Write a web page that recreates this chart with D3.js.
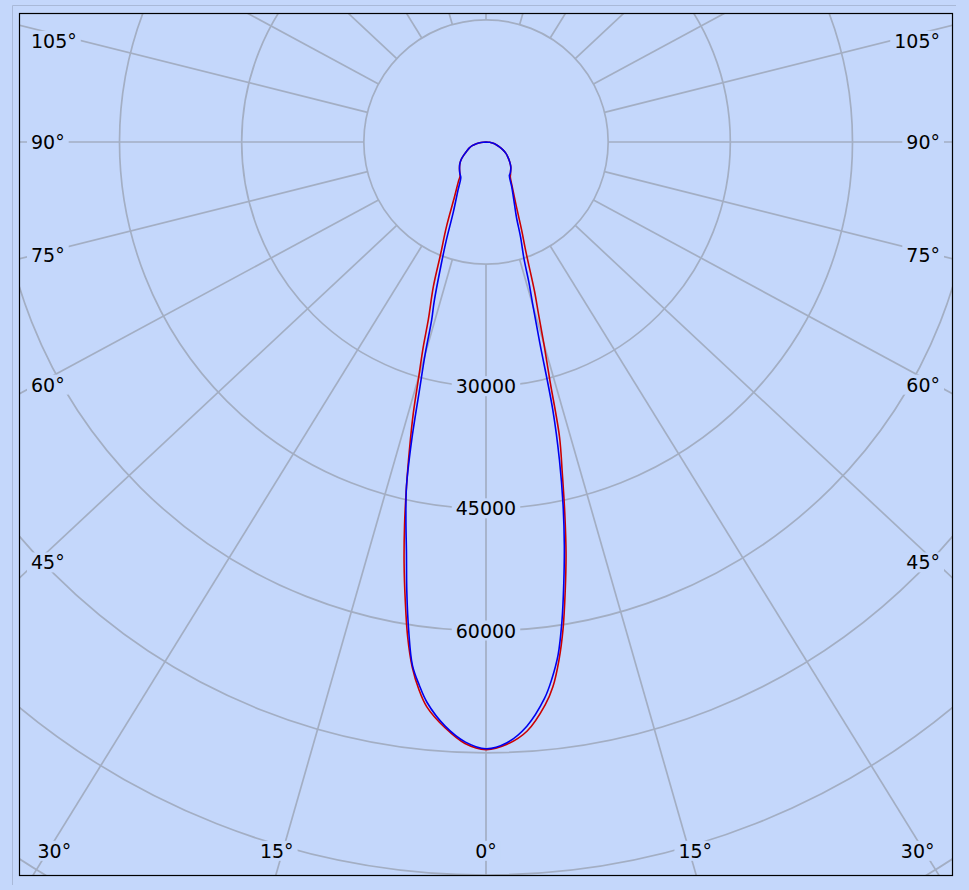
<!DOCTYPE html>
<html><head><meta charset="utf-8">
<script src="https://cdn.jsdelivr.net/npm/d3@7"></script>
<style>html,body{margin:0;padding:0;background:#c4d7fb;} svg{display:block}</style>
</head><body><svg id="chart" width="969" height="890"></svg>
<script>
// ---- data (gamma angle in degrees from nadir, luminous intensity in cd) ----
const gammaAngles = [0,2,4,6,7,8,9,10,11,12,13,14,15,16,17,18,20,22,25,30,35,37,40,45,50,55,60,65,70,75,80,85,90];
const redLeft   = [74600,73900,72100,69700,67700,65100,61500,57100,52700,48100,43400,38800,34500,29900,26400,22900,18900,14900,11500,7700,5900,5300,5000,4600,4200,3700,3100,2600,2200,1750,1200,600,0];
const redRight  = [74600,74000,72500,69500,67400,64300,60500,56000,51500,46500,41600,37300,30300,25800,22000,19300,14300,11700,8900,6500,5200,5000,4700,4300,3800,3300,2850,2300,1800,1300,900,450,0];
const blueLeft  = [74500,73700,71900,69200,67200,64900,60700,56000,51200,47300,43400,37700,31600,27100,22800,20600,16200,13000,9500,6900,5400,5200,5000,4600,4200,3700,3100,2600,2200,1750,1200,600,0];
const blueRight = [74500,73800,71900,68700,66400,63600,59600,55000,50400,45500,40100,33900,25500,20900,18000,15100,12400,10000,8200,6300,5000,4900,4700,4300,3800,3300,2850,2300,1800,1300,900,450,0];
const ringValues = [15000,30000,45000,60000,75000,90000,105000];
const ringLabelValues = [30000,45000,60000];
const spokeAngles = d3.range(0,360,15);
const labelAngles = [-105,-90,-75,-60,-45,-30,-15,0,15,30,45,60,75,90,105];

// ---- layout / style ----
const BG = "#c4d7fb", GRID = "#a3aec3";
const cx = 486, cy = 142;
const plot = {l:19.5, t:13.5, r:952.5, b:875.5};
const spokeStretch = 1.07;
const FONT = "DejaVu Sans, Verdana, sans-serif";
const rScale = d3.scaleLinear().domain([0,90000]).range([0,733]);

const svg = d3.select("#chart");
svg.append("rect").attr("width",969).attr("height",890).attr("fill",BG);
// etched outer frame (top & left)
svg.append("line").attr("x1",12.5).attr("y1",5.5).attr("x2",956).attr("y2",5.5).attr("stroke","#a9b9d8").attr("stroke-width",1);
svg.append("line").attr("x1",12.5).attr("y1",5.5).attr("x2",12.5).attr("y2",885).attr("stroke","#a9b9d8").attr("stroke-width",1);

const defs = svg.append("defs");
defs.append("clipPath").attr("id","plotclip").append("rect")
  .attr("x",plot.l).attr("y",plot.t).attr("width",plot.r-plot.l).attr("height",plot.b-plot.t);

const g = svg.append("g").attr("clip-path","url(#plotclip)");
const center = g.append("g").attr("transform",`translate(${cx},${cy})`);

function spokeDir(deg){
  const a = deg*Math.PI/180;
  const dx = spokeStretch*Math.sin(a), dy = Math.cos(a);
  const n = Math.hypot(dx,dy);
  return [dx/n, dy/n];
}

// rings
center.selectAll("circle.ring").data(ringValues).join("circle")
  .attr("class","ring").attr("r",d=>rScale(d)).attr("fill","none")
  .attr("stroke",GRID).attr("stroke-width",1.7);
// spokes
const r0 = rScale(ringValues[0]);
center.selectAll("line.spoke").data(spokeAngles).join("line")
  .attr("class","spoke")
  .attr("x1",d=>spokeDir(d)[0]*r0).attr("y1",d=>spokeDir(d)[1]*r0)
  .attr("x2",d=>spokeDir(d)[0]*1400).attr("y2",d=>spokeDir(d)[1]*1400)
  .attr("stroke",GRID).attr("stroke-width",1.7);

// labels with background boxes
const labelLayer = svg.append("g");
function addLabel(txt, x, y, anchor){
  const grp = labelLayer.append("g");
  const t = grp.append("text").attr("x",x).attr("y",y).attr("dy","0.36em")
    .attr("text-anchor",anchor).attr("font-family",FONT).attr("font-size",19)
    .attr("fill","#000").text(txt);
  const bb = t.node().getBBox();
  grp.insert("rect","text").attr("x",bb.x-4).attr("y",bb.y+1).attr("width",bb.width+8)
    .attr("height",bb.height-2).attr("fill",BG);
  return grp;
}
// ring labels along 0° spoke
ringLabelValues.forEach(v=>addLabel(d3.format("d")(v), cx, cy+rScale(v), "middle"));

// angle labels
labelAngles.forEach(deg=>{
  const [dx,dy] = spokeDir(deg);
  const tx = dx>0 ? (plot.r-cx)/dx : dx<0 ? (plot.l-cx)/dx : Infinity;
  const ty = dy>0 ? (plot.b-cy)/dy : dy<0 ? (plot.t-cy)/dy : Infinity;
  const txt = Math.abs(deg)+"°";
  if (ty < tx) {
    if (dy <= 0) return;
    const yc = 851;
    let xc = cx + dx/dy*(yc-cy);
    const tmp = svg.append("text").attr("font-family",FONT).attr("font-size",19).text(txt);
    const w = tmp.node().getBBox().width; tmp.remove();
    if (deg !== 0) xc += Math.sign(deg) * 6;
    xc = Math.max(plot.l+18+w/2, Math.min(plot.r-18-w/2, xc));
    addLabel(txt, xc, yc, "middle");
  } else {
    const xs = dx<0 ? 36 : 936;
    let yc = cy + dy/dx*(xs-cx);
    yc = Math.max(41, Math.min(851, yc));
    if (dx<0) addLabel(txt, plot.l+11.5, yc, "start");
    else addLabel(txt, plot.r-12.5, yc, "end");
  }
});

// intensity curves
const curveLayer = svg.append("g").attr("clip-path","url(#plotclip)")
  .append("g").attr("transform",`translate(${cx},${cy})`);
const line = d3.lineRadial().angle(d=>d.a).radius(d=>rScale(d.v)).curve(d3.curveCatmullRom.alpha(0.5));
function seriesPoints(left,right){
  const pts = [];
  for (let i=gammaAngles.length-1;i>=0;i--) pts.push({a:Math.PI+gammaAngles[i]*Math.PI/180, v:left[i]});
  for (let i=1;i<gammaAngles.length;i++) pts.push({a:Math.PI-gammaAngles[i]*Math.PI/180, v:right[i]});
  return pts;
}
curveLayer.append("path").attr("d",line(seriesPoints(redLeft,redRight)))
  .attr("fill","none").attr("stroke","#cc0000").attr("stroke-width",1.6);
curveLayer.append("path").attr("d",line(seriesPoints(blueLeft,blueRight)))
  .attr("fill","none").attr("stroke","#0000ee").attr("stroke-width",1.6);

// plot frame
svg.append("rect").attr("x",plot.l).attr("y",plot.t).attr("width",plot.r-plot.l).attr("height",plot.b-plot.t)
  .attr("fill","none").attr("stroke","#000").attr("stroke-width",1.2);
</script></body></html>
